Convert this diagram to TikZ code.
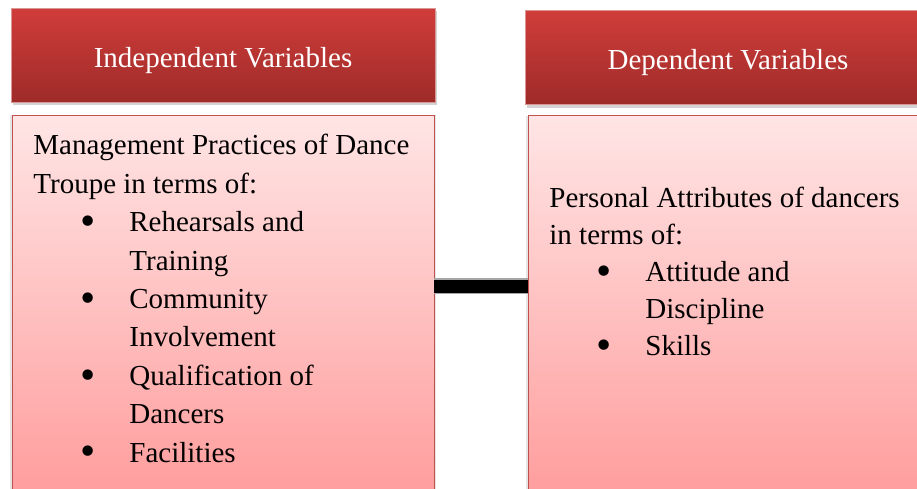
\documentclass[tikz,border=0pt]{standalone}
\usepackage{fontspec}
\setmainfont{Liberation Serif}
\usetikzlibrary{shadows, positioning, calc}
\definecolor{header_top}{RGB}{208, 61, 58}
\definecolor{header_bottom}{RGB}{158, 43, 41}
\definecolor{body_top}{RGB}{255, 229, 229}
\definecolor{body_bottom}{RGB}{255, 155, 155}
\definecolor{brick_red}{RGB}{192, 80, 77}
\newcommand{\bul}[1]{\hspace*{23.5pt}\makebox[24.5pt][l]{\raisebox{-1.9pt}{\scalebox{1.5}{\textbullet}}}#1}
\newcommand{\cont}[1]{\hspace*{48pt}#1}

\begin{document}
\begin{tikzpicture}[
    x=0.5pt, y=-0.5pt,
    % Node styles
    header/.style={
        rectangle,
        draw=brick_red!60,
        thin,
        top color=header_top,
        bottom color=header_bottom,
        text=white,
        minimum height=47pt,
        text height=15pt,
        text depth=3pt,
        drop shadow={opacity=0.35, shadow xshift=1pt, shadow yshift=-1.5pt},
        font=\fontsize{14.5}{17}\selectfont
    },
    bodybox/.style={
        rectangle,
        draw=brick_red,
        thin,
        top color=body_top,
        bottom color=body_bottom,
        minimum height=195pt,
        drop shadow={opacity=0.2, shadow xshift=0pt, shadow yshift=-1pt, shadow scale=1.01}
    },
    bodytext/.style={
        inner sep=0pt,
        anchor=north west,
        align=left,
        font=\fontsize{14.5}{#1}\selectfont
    },
    link/.style={
        line width=0.6pt,
        draw=gray!70,
        double=black,
        double distance=6.5pt
    }
]
\useasboundingbox (0,0) rectangle (917,488);

% Position nodes
\node[header, minimum width=212pt] (ivhead) at (223,55) {Independent Variables};
\node[header, minimum width=203pt] (dvhead) at (728,57.5) {Dependent Variables};

\node[bodybox, minimum width=211pt] (ivbody) at (223,310) {};
\node[bodybox, minimum width=200pt] (dvbody) at (728,310.5) {};

\node[bodytext=19.2pt] (ivtext) at (33,134) {Management Practices of Dance\\
    Troupe in terms of:\\
    \bul{Rehearsals and}\\
    \cont{Training}\\
    \bul{Community}\\
    \cont{Involvement}\\
    \bul{Qualification of}\\
    \cont{Dancers}\\
    \bul{Facilities}};

\node[bodytext=18.5pt] (dvtext) at (549,187) {Personal Attributes of dancers\\
    in terms of:\\
    \bul{Attitude and}\\
    \cont{Discipline}\\
    \bul{Skills}};

% draw connector
\coordinate (linkmid) at (480,286);
\draw[link] (ivbody.east |- linkmid) -- (dvbody.west |- linkmid);

\end{tikzpicture}
\end{document}
